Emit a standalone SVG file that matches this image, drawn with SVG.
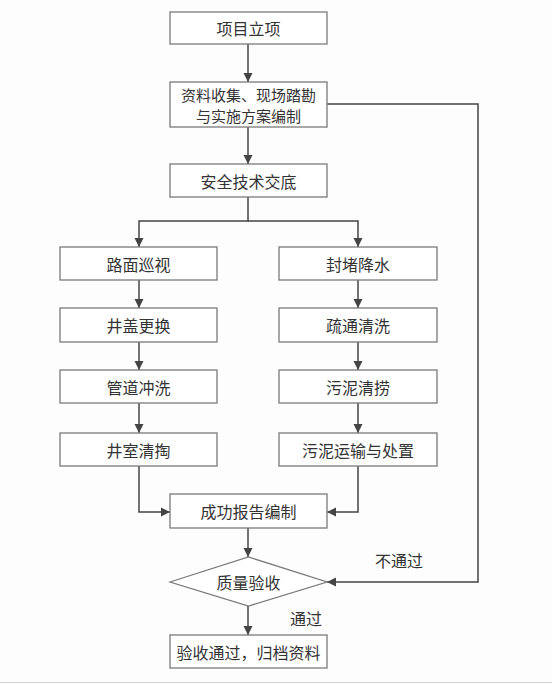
<svg xmlns="http://www.w3.org/2000/svg" width="552" height="684" viewBox="0 0 552 684">
<style>
.box{fill:#fff;stroke:#7a7a7a;stroke-width:1.3}
.t{font-family:"Noto Sans CJK SC","Noto Sans CJK JP",sans-serif;font-size:16px;fill:#333;text-anchor:middle;dominant-baseline:central}
.t2{font-size:15px}
.c{fill:none;stroke:#444;stroke-width:1.5}
</style>
<defs>
<marker id="ah" markerWidth="10" markerHeight="10" refX="9" refY="5" orient="auto" markerUnits="userSpaceOnUse">
<path d="M0,0.5 L9,5 L0,9.5 Z" fill="#444"/>
</marker>
</defs>
<rect width="552" height="684" fill="#fdfdfd"/>
<line x1="0" y1="682.5" x2="552" y2="682.5" stroke="#d4d4d4" stroke-width="1"/>
<g id="connectors">
<path class="c" d="M248,44 V82" marker-end="url(#ah)"/>
<path class="c" d="M248,127 V164" marker-end="url(#ah)"/>
<path class="c" d="M248,197 V221 H139 V247" marker-end="url(#ah)"/>
<path class="c" d="M248,221 H358 V247" marker-end="url(#ah)"/>
<path class="c" d="M139,280 V308" marker-end="url(#ah)"/>
<path class="c" d="M139,342 V370" marker-end="url(#ah)"/>
<path class="c" d="M139,403 V433" marker-end="url(#ah)"/>
<path class="c" d="M358,280 V308" marker-end="url(#ah)"/>
<path class="c" d="M358,342 V370" marker-end="url(#ah)"/>
<path class="c" d="M358,403 V433" marker-end="url(#ah)"/>
<path class="c" d="M139,466 V512 H170" marker-end="url(#ah)"/>
<path class="c" d="M358,466 V512 H327" marker-end="url(#ah)"/>
<path class="c" d="M248,528 V557" marker-end="url(#ah)"/>
<path class="c" d="M248,606 V635" marker-end="url(#ah)"/>
<path class="c" d="M327,104 H478 V582 H327" marker-end="url(#ah)"/>
<text class="t" x="399" y="560">不通过</text>
<text class="t" x="306" y="618">通过</text>
</g>
<g id="n1"><rect class="box" x="170" y="12" width="157" height="32"/><text class="t" x="248.5" y="28">项目立项</text></g>
<g id="n2"><rect class="box" x="170" y="82" width="157" height="45"/><text class="t t2"><tspan x="248.5" y="93.6">资料收集、现场踏勘</tspan><tspan x="248.5" y="115.4">与实施方案编制</tspan></text></g>
<g id="n3"><rect class="box" x="170" y="164" width="157" height="33"/><text class="t" x="248.5" y="180.5">安全技术交底</text></g>
<g id="n4"><rect class="box" x="60" y="247" width="157" height="33"/><text class="t" x="138.5" y="263.5">路面巡视</text></g>
<g id="n5"><rect class="box" x="279" y="247" width="158" height="33"/><text class="t" x="358" y="263.5">封堵降水</text></g>
<g id="n6"><rect class="box" x="60" y="308" width="157" height="34"/><text class="t" x="138.5" y="325">井盖更换</text></g>
<g id="n7"><rect class="box" x="279" y="308" width="158" height="34"/><text class="t" x="358" y="325">疏通清洗</text></g>
<g id="n8"><rect class="box" x="60" y="370" width="157" height="33"/><text class="t" x="138.5" y="386.5">管道冲洗</text></g>
<g id="n9"><rect class="box" x="279" y="370" width="158" height="33"/><text class="t" x="358" y="386.5">污泥清捞</text></g>
<g id="n10"><rect class="box" x="60" y="433" width="157" height="33"/><text class="t" x="138.5" y="449.5">井室清掏</text></g>
<g id="n11"><rect class="box" x="279" y="433" width="158" height="33"/><text class="t" x="358" y="449.5">污泥运输与处置</text></g>
<g id="n12"><rect class="box" x="170" y="494" width="157" height="34"/><text class="t" x="248.5" y="511">成功报告编制</text></g>
<g id="n13"><path class="box" d="M170,582 L248.5,557 L327,582 L248.5,606 Z"/><text class="t" x="248.5" y="581.5">质量验收</text></g>
<g id="n14"><rect class="box" x="170" y="635" width="157" height="33"/><text class="t" x="248.5" y="651.5">验收通过，归档资料</text></g>
</svg>
